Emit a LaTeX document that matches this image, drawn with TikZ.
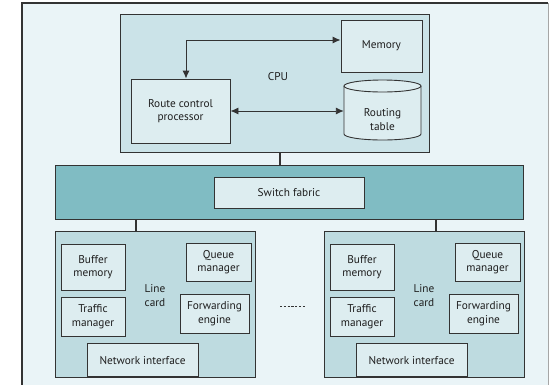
\documentclass[tikz,border=0pt]{standalone}
\usepackage{fontspec}
\setmainfont{PT Sans}
\usetikzlibrary{arrows.meta}
\definecolor{pagebg}{HTML}{EAF4F7}
\definecolor{cpufill}{HTML}{CBE3E8}
\definecolor{boxfill}{HTML}{DDEDF0}
\definecolor{fabric}{HTML}{80BCC3}
\definecolor{cardfill}{HTML}{BEDBE0}
\definecolor{ink}{HTML}{333333}
\definecolor{txt}{HTML}{1E1E1E}
\begin{document}
\begin{tikzpicture}[x=1pt,y=-1pt,
  font=\fontsize{11.3}{13.4}\selectfont, text=txt,
  frame/.style={draw=ink, line width=1pt},
  box/.style={draw=ink, line width=0.9pt, fill=boxfill, align=center, inner sep=0pt},
  link/.style={draw=ink, line width=1.4pt},
  dbl/.style={draw=ink, line width=0.9pt, {Latex[length=8pt,width=7pt]}-{Latex[length=8pt,width=7pt]}},
  lbl/.style={align=center, inner sep=0pt}]
\useasboundingbox (0,0) rectangle (549,384);
% page background
\fill[pagebg] (22,3) rectangle (548,390);
\draw[ink, line width=1.2pt] (22,390) -- (22,3) -- (548,3);
\draw[gray!70, line width=0.8pt] (548,3) -- (548,390);

% CPU complex
\node[frame, fill=cpufill, minimum width=309pt, minimum height=138pt, inner sep=0pt] (cpu) at (274.5,83) {};
\node[lbl] (cpulbl) at (278,77) {CPU};
\node[box, minimum width=81pt, minimum height=52pt] (mem) at (381.5,46) {Memory};
\node[box, minimum width=99pt, minimum height=64pt] (rcp) at (180.5,111) {Route control\\processor};
% routing table drawn as a cylinder
\fill[boxfill] (344,86) arc[start angle=180, end angle=360, x radius=38.5pt, y radius=6pt]
  -- (421,134) arc[start angle=0, end angle=-180, x radius=38.5pt, y radius=6pt] -- cycle;
\fill[boxfill] (382.5,86) ellipse[x radius=38.5pt, y radius=6pt];
\draw[ink, line width=0.9pt] (382.5,86) ellipse[x radius=38.5pt, y radius=6pt];
\draw[ink, line width=0.9pt] (344,86) -- (344,134) arc[start angle=180, end angle=360, x radius=38.5pt, y radius=6pt] -- (421,86);
\node[lbl, minimum width=77pt, minimum height=48pt] (rt) at (382.5,111) {};
\node[lbl] (rtlbl) at (382.5,119.5) {Routing\\table};
\coordinate (bend) at (186,40);
\draw[dbl] (rcp.north -| bend) -- (bend) -- (bend -| mem.west);
\draw[dbl] (rcp.east) -- (rt.west);

% switch fabric
\node[frame, fill=fabric, minimum width=468pt, minimum height=54pt, inner sep=0pt] (sf) at (289,192) {};
\node[box, minimum width=150pt, minimum height=31pt] (sfbox) at (289,192.5) {Switch fabric};
\draw[link] (cpu.south -| 280,0) -- (sf.north -| 280,0);

% line cards
\foreach \name/\dx in {lcA/0, lcB/269} {
  \begin{scope}[xshift=\dx pt]
    \node[frame, fill=cardfill, minimum width=200pt, minimum height=146pt, inner sep=0pt] (\name) at (155,304) {};
    \node[lbl] (\name-lbl) at (155,295.5) {Line\\card};
    \node[box, minimum width=64pt, minimum height=46pt] (\name-buf) at (93,267) {Buffer\\memory};
    \node[box, minimum width=64pt, minimum height=39pt] (\name-tm) at (93,316.5) {Traffic\\manager};
    \node[box, minimum width=65pt, minimum height=38pt] (\name-qm) at (218.5,262) {Queue\\manager};
    \node[box, minimum width=69pt, minimum height=39pt] (\name-fe) at (214.5,313.5) {Forwarding\\engine};
    \node[box, minimum width=111pt, minimum height=33pt, anchor=south] (\name-ni) at (142.5,377) {Network interface};
  \end{scope}
}
\draw[link] (sf.south -| 136,0) -- (lcA.north -| 136,0);
\draw[link] (sf.south -| 436,0) -- (lcB.north -| 436,0);
\coordinate (gapL) at (280,306);
\coordinate (gapR) at (305,306);
\draw[ink, line width=0.7pt, dash pattern=on 2.2pt off 1.6pt] (gapL) -- (gapR);
\end{tikzpicture}
\end{document}
